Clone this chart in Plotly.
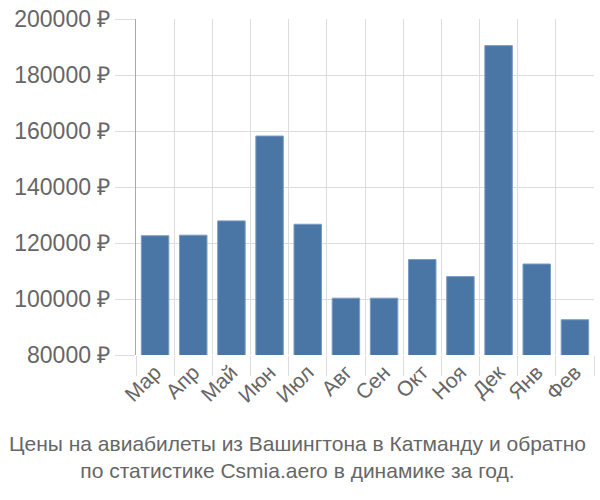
import plotly.graph_objects as go

months = ["Мар", "Апр", "Май", "Июн", "Июл", "Авг", "Сен", "Окт", "Ноя", "Дек", "Янв", "Фев"]
prices = [122600, 122800, 127900, 158200, 126700, 100300, 100300, 114100, 108000, 190500, 112500, 92600]
y_ticks = [80000, 100000, 120000, 140000, 160000, 180000, 200000]
y_tick_labels = [f"{v} ₽" for v in y_ticks]
title_lines = ["Цены на авиабилеты из Вашингтона в Катманду и обратно",
               "по статистике Csmia.aero в динамике за год."]

fig = go.Figure(go.Bar(
    x=months, y=prices,
    marker=dict(color="#4a76a6", line=dict(color="#7b9cc4", width=1)),
    width=0.72,
))

fig.update_layout(
    width=600, height=500,
    margin=dict(l=136, r=6, t=14, b=145),
    paper_bgcolor="white", plot_bgcolor="white",
    font=dict(family="Liberation Sans, Arial, sans-serif", color="#666666"),
    showlegend=False,
    xaxis=dict(
        tickson="boundaries", showgrid=True, gridcolor="#dddddd", gridwidth=1,
        ticks="outside", ticklen=20, tickcolor="#dddddd",
        tickangle=-45, tickfont=dict(size=21, color="#666666"),
        showline=False, zeroline=False,
    ),
    yaxis=dict(
        range=[80000, 200000], tickvals=y_ticks, ticktext=y_tick_labels,
        showgrid=True, gridcolor="#dddddd", gridwidth=1,
        ticks="outside", ticklen=20, tickcolor="#dddddd",
        tickfont=dict(size=23, color="#666666"),
        showline=True, linecolor="#aaaaaa", linewidth=1, zeroline=False,
    ),
    annotations=[dict(
        text="<br>".join(title_lines), xref="paper", yref="paper",
        x=0.5, y=-0.222, xanchor="center", yanchor="top", showarrow=False,
        font=dict(size=21, color="#666666"),
        xshift=-68,
    )],
)

fig.write_html("out.html")
